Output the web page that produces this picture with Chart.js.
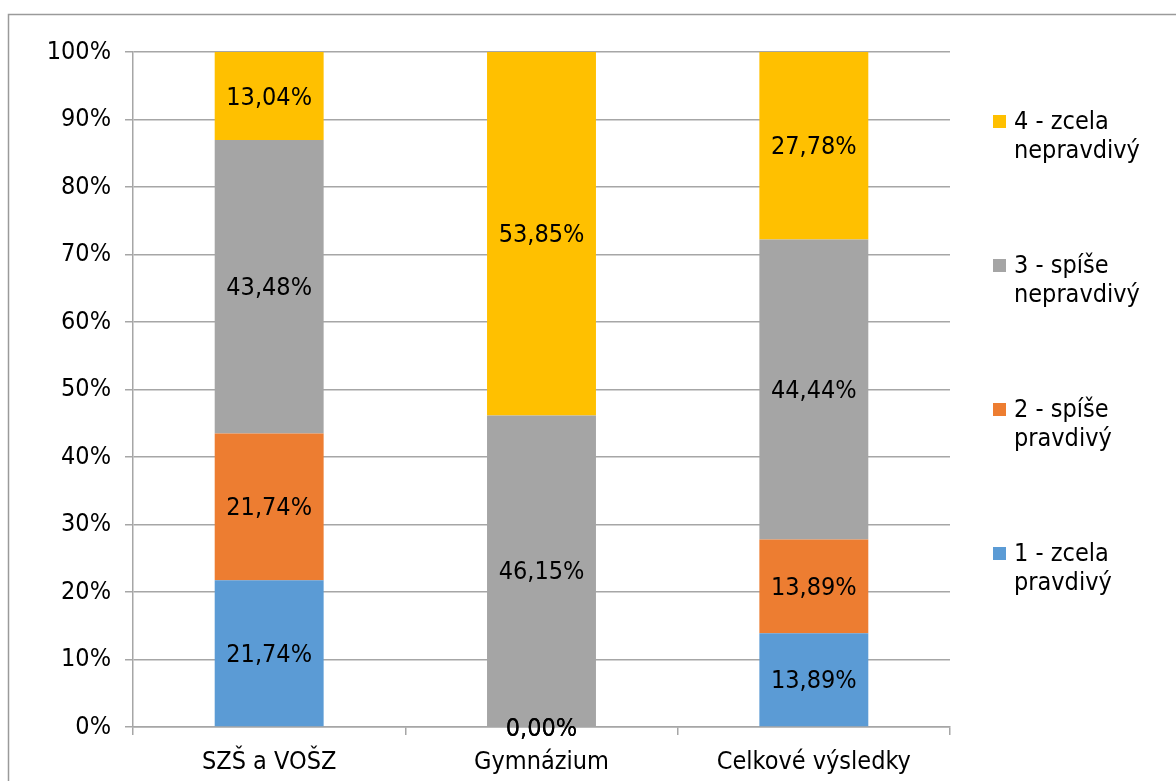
<!DOCTYPE html>
<html>
<head>
<meta charset="utf-8">
<script src="https://cdn.jsdelivr.net/npm/chart.js@4.4.1/dist/chart.umd.min.js"></script>
<style>
  html, body { margin: 0; padding: 0; background: #ffffff; }
  #wrap { position: relative; width: 1176px; height: 781px; }
</style>
</head>
<body>
<div id="wrap"><canvas id="chart" width="1176" height="781"></canvas></div>
<script>
// Categories and series (percent shares per answer)
const categories = ['SZŠ a VOŠZ', 'Gymnázium', 'Celkové výsledky'];
const seriesNames = ['1 - zcela pravdivý', '2 - spíše pravdivý', '3 - spíše nepravdivý', '4 - zcela nepravdivý'];
const zcelaPravdivy = [21.74, 0.00, 13.89];
const spisePravdivy = [21.74, 0.00, 13.89];
const spiseNepravdivy = [43.48, 46.15, 44.44];
const zcelaNepravdivy = [13.04, 53.85, 27.78];
const yTicks = [0, 10, 20, 30, 40, 50, 60, 70, 80, 90, 100];

const seriesColors = ['#5B9BD5', '#ED7D31', '#A5A5A5', '#FFC000'];
const FONT = "'DejaVu Sans Condensed', 'DejaVu Sans', sans-serif";
const FSIZE = 25;
const TEXT = '#000000';
const GRID = '#a6a6a6';

const fmt = v => v.toFixed(2).replace('.', ',') + '%';

// Value labels centred in each bar segment
const segmentLabels = {
  id: 'segmentLabels',
  afterDatasetsDraw(chart) {
    const ctx = chart.ctx;
    ctx.save();
    ctx.font = FSIZE + 'px ' + FONT;
    ctx.fillStyle = TEXT;
    ctx.textAlign = 'center';
    ctx.textBaseline = 'middle';
    chart.data.datasets.forEach((ds, i) => {
      const meta = chart.getDatasetMeta(i);
      meta.data.forEach((bar, j) => {
        const p = bar.getProps(['x', 'y', 'base'], true);
        ctx.fillText(fmt(ds.data[j]), p.x, (p.y + p.base) / 2 + 2);
      });
    });
    ctx.restore();
  }
};

// Legend on the right, top entry = last series, wrapped onto two lines
const sideLegend = {
  id: 'sideLegend',
  afterDraw(chart) {
    const ctx = chart.ctx;
    ctx.save();
    ctx.font = FSIZE + 'px ' + FONT;
    ctx.textBaseline = 'middle';
    const x0 = 993, textX = 1014, maxW = 150, lineH = 29, step = 144;
    let y = 122;
    const n = chart.data.datasets.length;
    for (let k = n - 1; k >= 0; k--) {
      const ds = chart.data.datasets[k];
      const words = ds.label.split(' ');
      const lines = [];
      let cur = '';
      words.forEach(w => {
        const t = cur ? cur + ' ' + w : w;
        if (cur && ctx.measureText(t).width > maxW) { lines.push(cur); cur = w; }
        else cur = t;
      });
      if (cur) lines.push(cur);
      ctx.fillStyle = ds.backgroundColor;
      ctx.fillRect(x0, y - 7, 13, 13);
      ctx.fillStyle = TEXT;
      ctx.textAlign = 'left';
      lines.forEach((ln, li) => ctx.fillText(ln, textX, y + li * lineH));
      y += step;
    }
    ctx.restore();
  }
};

// Outer chart frame
const frame = {
  id: 'frame',
  beforeDraw(chart) {
    const ctx = chart.ctx;
    ctx.save();
    ctx.strokeStyle = '#9a9a9a';
    ctx.lineWidth = 1.5;
    ctx.beginPath();
    ctx.moveTo(8.5, chart.height + 2);
    ctx.lineTo(8.5, 14.5);
    ctx.lineTo(chart.width + 2, 14.5);
    ctx.stroke();
    ctx.restore();
  }
};

const seriesData = [zcelaPravdivy, spisePravdivy, spiseNepravdivy, zcelaNepravdivy];

new Chart(document.getElementById('chart'), {
  type: 'bar',
  data: {
    labels: categories,
    datasets: seriesNames.map((name, i) => ({
      label: name,
      data: seriesData[i],
      backgroundColor: seriesColors[i],
      borderWidth: 0,
      categoryPercentage: 1.0,
      barPercentage: 0.4
    }))
  },
  options: {
    responsive: false,
    animation: false,
    layout: { padding: { top: 52, right: 226, left: 0, bottom: 0 } },
    plugins: {
      legend: { display: false },
      tooltip: { enabled: false }
    },
    scales: {
      x: {
        stacked: true,
        afterFit(scale) { scale.height = 54; },
        grid: {
          offset: true,
          drawOnChartArea: false,
          drawTicks: true,
          tickLength: 8,
          color: GRID,
          lineWidth: 1.5
        },
        border: { color: GRID, width: 1.5 },
        ticks: { color: TEXT, font: { family: FONT, size: FSIZE }, padding: 12 }
      },
      y: {
        stacked: true,
        min: 0,
        max: 100,
        afterFit(scale) { scale.width = 133; },
        afterBuildTicks(scale) { scale.ticks = yTicks.map(v => ({ value: v })); },
        grid: { color: GRID, lineWidth: 1.5, tickLength: 8 },
        border: { color: GRID, width: 1.5 },
        ticks: {
          color: TEXT,
          font: { family: FONT, size: FSIZE },
          padding: 14,
          callback: v => v + '%'
        }
      }
    }
  },
  plugins: [frame, segmentLabels, sideLegend]
});
</script>
</body>
</html>
